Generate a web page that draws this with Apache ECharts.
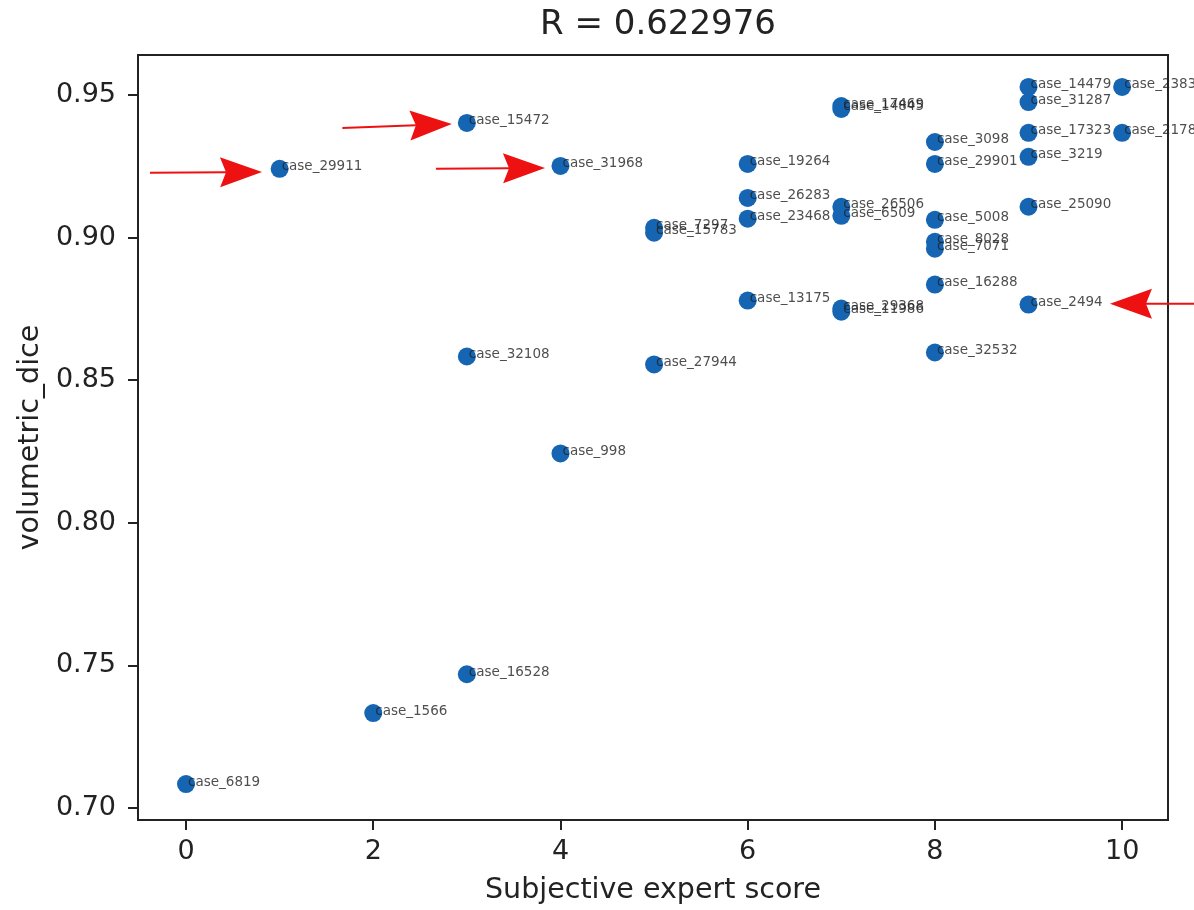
<!DOCTYPE html>
<html>
<head>
<meta charset="utf-8">
<script src="https://cdn.jsdelivr.net/npm/echarts@6/dist/echarts.min.js"></script>
<style>html,body{margin:0;padding:0;background:#fff}#c{width:1194px;height:910px}</style>
</head>
<body>
<div id="c"></div>
<script>
const names = ['case_6819','case_29911','case_1566','case_15472','case_32108','case_16528','case_31968','case_998',
  'case_7297','case_15783','case_27944','case_19264','case_26283','case_23468','case_13175',
  'case_17469','case_14845','case_26506','case_6509','case_29368','case_11986',
  'case_3098','case_29901','case_5008','case_8028','case_7071','case_16288','case_32532',
  'case_14479','case_31287','case_17323','case_3219','case_25090','case_2494',
  'case_2383','case_2178'];
const scores = [0,1,2,3,3,3,4,4,
  5,5,5,6,6,6,6,
  7,7,7,7,7,7,
  8,8,8,8,8,8,8,
  9,9,9,9,9,9,
  10,10];
const dice = [0.7084,0.9241,0.7333,0.9402,0.8583,0.7469,0.9251,0.8243,
  0.9034,0.9017,0.8555,0.9258,0.9139,0.9066,0.8779,
  0.9461,0.9451,0.9108,0.9076,0.8751,0.8740,
  0.9335,0.9258,0.9062,0.8985,0.8961,0.8835,0.8597,
  0.9528,0.9475,0.9367,0.9283,0.9108,0.8765,
  0.9528,0.9367];
const xTicks = [0,2,4,6,8,10];
const yTicks = [0.70,0.75,0.80,0.85,0.90,0.95];
const titleText = 'R = 0.622976';
// annotation arrows: start and tip, in data units
const arrowFromX = [-0.385, 1.67, 2.67, 10.90];
const arrowFromY = [0.9227, 0.9384, 0.9241, 0.8768];
const arrowToX   = [0.812, 2.84, 3.835, 9.87];
const arrowToY   = [0.9230, 0.9398, 0.9244, 0.8768];

const pts = scores.map((s,i)=>[s, dice[i], names[i]]);
const arrows = arrowFromX.map((fx,i)=>[fx, arrowFromY[i], arrowToX[i], arrowToY[i]]);
const font = 'DejaVu Sans';
const chart = echarts.init(document.getElementById('c'));
chart.setOption({
  animation:false,
  title:{text:titleText,left:653,textAlign:'center',top:3,textStyle:{fontFamily:font,fontSize:34,fontWeight:'normal',color:'#222'}},
  grid:{left:138,right:26,top:55,bottom:89,show:true,borderColor:'#222',borderWidth:2,backgroundColor:'transparent'},
  xAxis:{type:'value',min:-0.513,max:10.49,
    name:'Subjective expert score',nameLocation:'middle',nameGap:56,
    nameTextStyle:{fontFamily:font,fontSize:28.5,color:'#222'},
    axisLine:{show:true,onZero:false,lineStyle:{color:'#222',width:2}},
    axisTick:{show:true,length:10,lineStyle:{color:'#222',width:2},customValues:xTicks},
    axisLabel:{fontFamily:font,fontSize:27,color:'#222',margin:18,customValues:xTicks,formatter:v=>String(v)},
    splitLine:{show:false}},
  yAxis:{type:'value',min:0.6958,max:0.964,
    name:'volumetric_dice',nameLocation:'middle',nameGap:86,
    nameTextStyle:{fontFamily:font,fontSize:28.5,color:'#222'},
    axisLine:{show:true,onZero:false,lineStyle:{color:'#222',width:2}},
    axisTick:{show:true,length:10,lineStyle:{color:'#222',width:2},customValues:yTicks},
    axisLabel:{fontFamily:font,fontSize:27,color:'#222',margin:22,customValues:yTicks,formatter:v=>v.toFixed(2)},
    splitLine:{show:false}},
  series:[
    {type:'scatter',z:3,data:pts,symbolSize:18,itemStyle:{color:'#1565b3',opacity:1}},
    {type:'scatter',z:5,data:pts,symbolSize:1,itemStyle:{color:'rgba(0,0,0,0)'},
     label:{show:true,position:'inside',align:'left',verticalAlign:'middle',offset:[2,-2],
       formatter:p=>p.data[2],fontFamily:font,fontSize:13.5,color:'#222'},silent:true},
    {type:'custom',z:4,data:arrows,clip:false,silent:true,
     renderItem:function(params, api){
       const p0 = api.coord([api.value(0), api.value(1)]);
       const p1 = api.coord([api.value(2), api.value(3)]);
       const dx = p1[0]-p0[0], dy = p1[1]-p0[1];
       const L = Math.sqrt(dx*dx+dy*dy), ux = dx/L, uy = dy/L, nx = -uy, ny = ux;
       const headLen = 42, halfW = 15, notch = 6;
       const back = [p1[0]-ux*headLen, p1[1]-uy*headLen];
       const notchPt = [back[0]+ux*notch, back[1]+uy*notch];
       return {type:'group',children:[
         {type:'line',shape:{x1:p0[0],y1:p0[1],x2:notchPt[0],y2:notchPt[1]},style:{stroke:'#ee1111',lineWidth:2}},
         {type:'polygon',shape:{points:[p1,[back[0]+nx*halfW,back[1]+ny*halfW],notchPt,[back[0]-nx*halfW,back[1]-ny*halfW]]},
          style:{fill:'#ee1111',stroke:null}}
       ]};
     }}
  ]
});
</script>
</body>
</html>
